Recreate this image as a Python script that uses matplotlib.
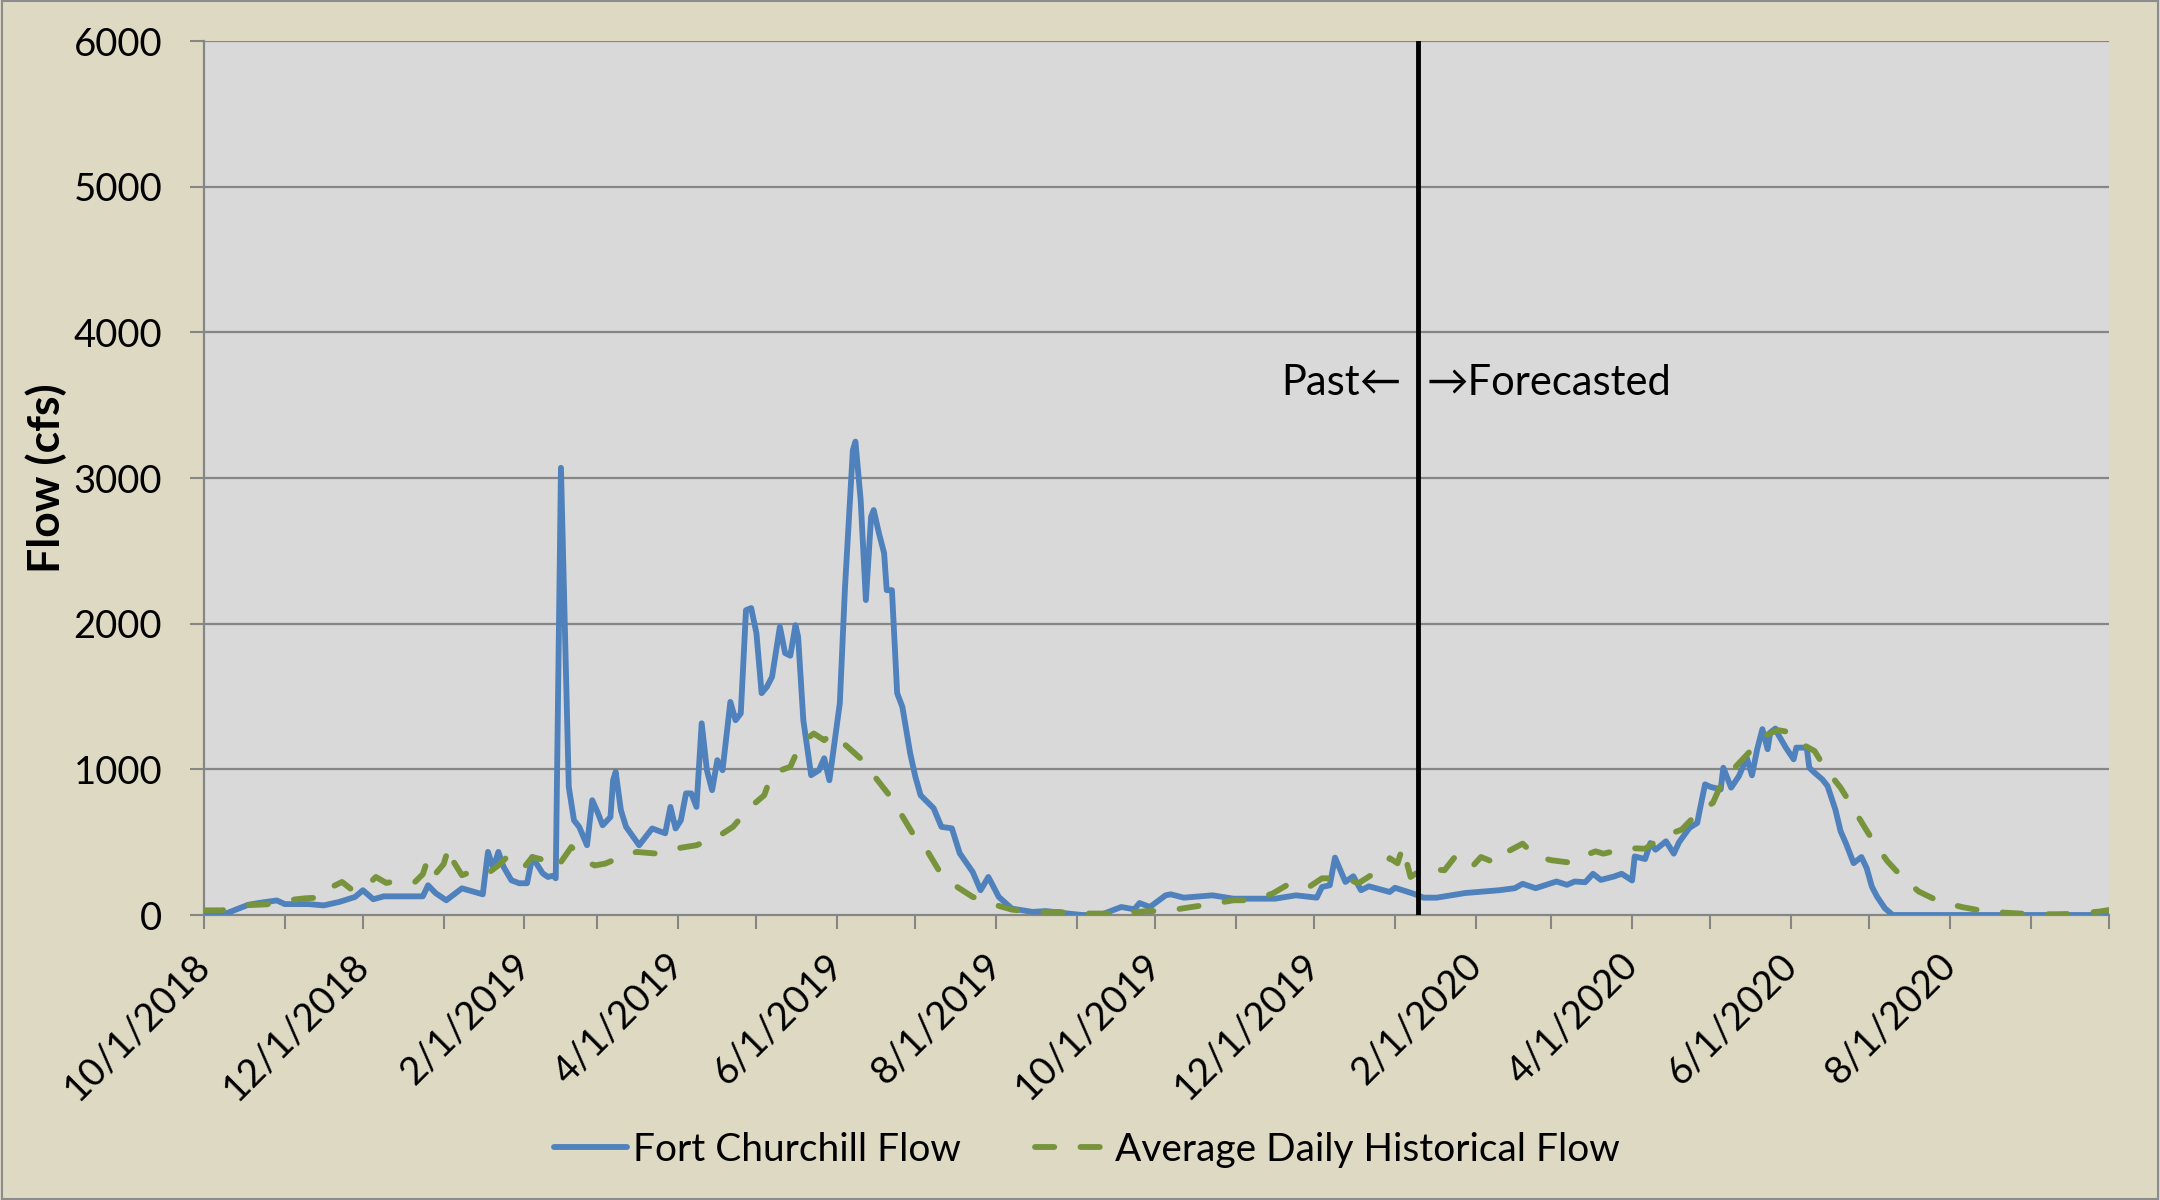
import pandas as pd
import matplotlib
matplotlib.use('Agg')
import matplotlib.pyplot as plt
from matplotlib.patches import Rectangle

plt.rcParams['font.family'] = ['Lato', 'DejaVu Sans']

# ------------------ DATA ------------------
start_date = '2018-10-01'
end_date = '2020-10-01'
split_date = '2020-01-10'

# Fort Churchill Flow: days since start_date, flow in cfs
fc_day = [0, 7, 12, 17, 22, 28, 31, 40, 46, 52, 58, 61, 65, 69, 84, 86, 89, 93, 99, 107,
          109, 111, 113, 115, 118, 121, 124, 126, 130, 132, 134, 135, 137, 140, 142, 144,
          147, 149, 151, 153, 156, 157, 158, 160, 162, 167, 172, 177, 179, 181, 183, 185,
          187, 189, 191, 193, 195, 197, 199, 202, 204, 206, 208, 210, 212, 214, 216, 218,
          221, 223, 225, 227, 228, 230, 233, 236, 238, 240, 244, 246, 249, 250, 252, 254,
          256, 257, 259, 261, 262, 264, 266, 268, 271, 273, 275, 280, 283, 287, 290, 295,
          298, 301, 305, 310, 318, 323, 331, 337, 344, 352, 357, 359, 363, 369, 371, 376,
          387, 395, 411, 419, 427, 429, 432, 434, 438, 441, 444, 447, 455, 457, 464, 468,
          473, 484, 497, 503, 506, 511, 519, 523, 526, 530, 533, 536, 541, 544, 548, 549,
          553, 555, 557, 561, 564, 566, 570, 573, 574, 576, 578, 582, 583, 586, 589, 592,
          594, 596, 598, 600, 601, 603, 604, 607, 610, 611, 615, 616, 618, 621, 623, 626,
          628, 630, 633, 636, 638, 640, 642, 645, 648, 731]
fc_flow = [0, 0, 35, 70, 85, 100, 75, 75, 66, 90, 124, 170, 108, 128, 128, 204, 149, 101, 183, 142,
           433, 320, 433, 330, 238, 218, 218, 398, 286, 261, 270, 252, 3070, 879, 650, 605,
           479, 788, 708, 616, 673, 925, 983, 719, 605, 479, 594, 561, 742, 594, 650, 835,
           835, 742, 1316, 994, 857, 1063, 994, 1463, 1337, 1384, 2093, 2107, 1935, 1523, 1566, 1635,
           1979, 1798, 1780, 1990, 1910, 1337, 960, 994, 1076, 925, 1454, 2253, 3192, 3250, 2849, 2162,
           2734, 2780, 2622, 2484, 2230, 2230, 1523, 1429, 1110, 948, 822, 733, 605, 595, 424, 295,
           170, 261, 124, 44, 21, 27, 11, 0, 0, 55, 39, 82, 55, 135, 142, 119,
           135, 112, 112, 135, 119, 192, 204, 394, 227, 266, 170, 197, 158, 187, 147, 119,
           119, 151, 170, 184, 214, 184, 230, 207, 230, 225, 283, 241, 264, 283, 237, 402,
           384, 494, 448, 506, 421, 499, 598, 632, 724, 897, 880, 862, 1011, 874, 954, 1080,
           959, 1138, 1276, 1138, 1253, 1280, 1241, 1149, 1069, 1149, 1149, 1011, 977, 931, 885, 724,
           575, 494, 356, 398, 322, 195, 126, 46, 0, 0]

# Average Daily Historical Flow
hist_day = [0, 7, 16, 24, 32, 39, 45, 48, 53, 57, 62, 66, 70, 75, 81, 84, 86, 89, 92, 94,
            95, 99, 106, 110, 113, 117, 123, 126, 130, 133, 137, 141, 147, 150, 154, 160, 166, 174,
            181, 189, 197, 203, 209, 215, 218, 225, 229, 234, 238, 241, 247, 252, 257, 263, 267,
            272, 277, 282, 287, 295, 302, 310, 318, 328, 335, 343, 352, 362, 369, 379, 386, 395,
            402, 410, 417, 424, 429, 438, 443, 452, 455, 458, 460, 463, 468, 476, 480, 486, 490,
            496, 500, 506, 511, 517, 525, 530, 534, 537, 546, 553, 560, 567, 573, 579, 583, 588,
            594, 597, 604, 608, 611, 618, 622, 628, 632, 637, 641, 646, 652, 658, 666, 675, 682,
            691, 700, 709, 716, 727, 731]
hist_flow = [32, 32, 67, 73, 101, 115, 120, 183, 227, 170, 192, 261, 220, 238, 227, 280, 389, 286, 350, 467,
             389, 273, 320, 300, 341, 410, 330, 398, 380, 424, 364, 467, 364, 340, 353, 398, 433, 421,
             456, 479, 536, 605, 731, 822, 973, 1017, 1178, 1246, 1200, 1246, 1154, 1074, 960, 822, 708,
             559, 456, 307, 216, 124, 78, 37, 21, 21, 10, 10, 10, 27, 27, 55, 73, 101,
             101, 147, 220, 192, 252, 252, 218, 320, 390, 355, 467, 261, 320, 307, 398, 319, 398,
             355, 433, 490, 403, 376, 358, 410, 437, 421, 460, 455, 540, 586, 697, 770, 931, 1023,
             1138, 1218, 1269, 1257, 1195, 1126, 1011, 874, 759, 609, 494, 368, 253, 161, 92, 53, 30,
             16, 7, 5, 7, 23, 34]

x_labels = ['10/1/2018', '12/1/2018', '2/1/2019', '4/1/2019', '6/1/2019', '8/1/2019',
            '10/1/2019', '12/1/2019', '2/1/2020', '4/1/2020', '6/1/2020', '8/1/2020']
y_ticks = [0, 1000, 2000, 3000, 4000, 5000, 6000]
# -------------------------------------------------------------------

t0 = pd.Timestamp(start_date)
fc_dates = t0 + pd.to_timedelta(fc_day, unit='D')
hist_dates = t0 + pd.to_timedelta(hist_day, unit='D')

fig = plt.figure(figsize=(21.6, 12), dpi=100, facecolor='#DDD9C3')
ax = fig.add_axes([0.0944, 0.2375, 0.882, 0.7283])
ax.set_facecolor('#D9D9D9')

# Gridlines
for v in y_ticks[1:]:
    ax.axhline(v, color='#868686', lw=1.6, zorder=1)

ax.plot(fc_dates, fc_flow, color='#4F81BD', lw=4.2, label='Fort Churchill Flow',
        solid_joinstyle='round', solid_capstyle='round', zorder=3)
ax.plot(hist_dates, hist_flow, color='#77933C', lw=4.2, dashes=(3.3, 4.5),
        dash_capstyle='round', dash_joinstyle='round',
        label='Average Daily Historical Flow', zorder=3)

# Past / Forecasted divider
split = pd.Timestamp(split_date)
ax.axvline(split, color='black', lw=3.5, zorder=4)
ax.annotate('Past\u2190', xy=(split, 3650), xytext=(-12, 0), textcoords='offset points',
            ha='right', va='center', fontsize=30)
ax.annotate('\u2192Forecasted', xy=(split, 3650), xytext=(6, 0), textcoords='offset points',
            ha='left', va='center', fontsize=30)

# Axes
ax.set_ylim(0, 6000)
ax.set_yticks(y_ticks)
ax.set_xlim(t0, pd.Timestamp(end_date))
ax.set_xticks(pd.to_datetime(x_labels, format='%m/%d/%Y'))
ax.set_xticklabels(x_labels, rotation=45, ha='right', va='center', rotation_mode='anchor')
ax.set_xticks(pd.date_range(start_date, end_date, freq='MS'), minor=True)
ax.tick_params(axis='both', which='both', direction='out', color='#868686', width=1.5,
               length=10, labelsize=27.5)
ax.tick_params(axis='y', pad=20)
ax.tick_params(axis='x', which='major', pad=22)

for side in ['top', 'right']:
    ax.spines[side].set_visible(False)
for side in ['left', 'bottom']:
    ax.spines[side].set_color('#868686')
    ax.spines[side].set_linewidth(1.6)

ax.set_ylabel('Flow (cfs)', fontsize=32, fontweight='bold')
ax.yaxis.set_label_coords(-0.072, 0.5)

fig.legend(loc='center', bbox_to_anchor=(0.503, 0.042), ncol=2, frameon=False, fontsize=28,
           handlelength=1.9, handletextpad=0.15, columnspacing=1.9)

# Chart border
fig.patches.append(Rectangle((0.001, 0.001), 0.998, 0.998, transform=fig.transFigure,
                             fill=False, edgecolor='#8C8C8C', lw=1.5))

fig.savefig('out.png', dpi=100, facecolor=fig.get_facecolor())
